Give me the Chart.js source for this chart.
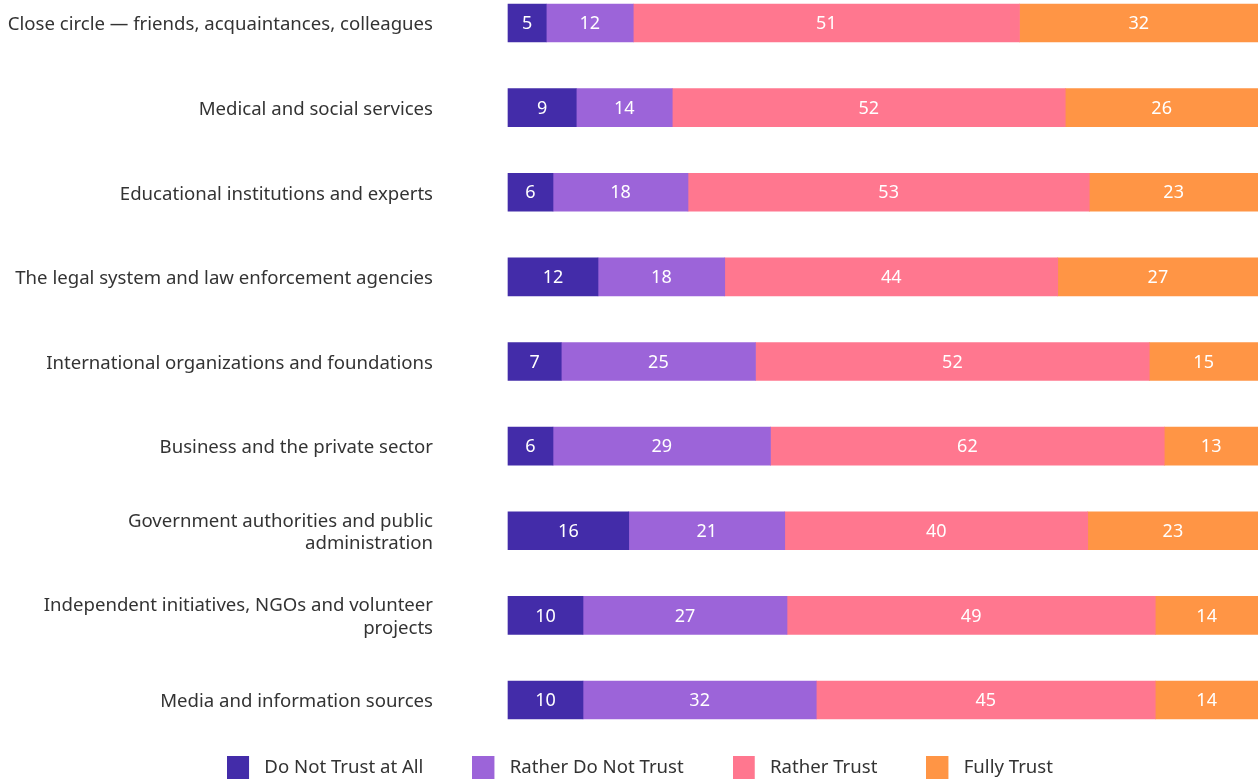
<!DOCTYPE html>
<html>
<head>
<meta charset="utf-8">
<script src="https://cdn.jsdelivr.net/npm/chart.js@4"></script>
<style>
  html, body { margin: 0; padding: 0; background: #fff; }
  #wrap { width: 1258px; height: 780px; position: relative; }
</style>
</head>
<body>
<div id="wrap"><canvas id="trustChart"></canvas></div>
<script>
// categories (multi-line ones are split where the original wraps)
const categories = [
  'Close circle — friends, acquaintances, colleagues',
  'Medical and social services',
  'Educational institutions and experts',
  'The legal system and law enforcement agencies',
  'International organizations and foundations',
  'Business and the private sector',
  ['Government authorities and public', 'administration'],
  ['Independent initiatives, NGOs and volunteer', 'projects'],
  'Media and information sources'
];

const seriesNames = ['Do Not Trust at All', 'Rather Do Not Trust', 'Rather Trust', 'Fully Trust'];
const seriesColors = ['#432ca9', '#9c64d9', '#ff778f', '#ff9545'];

// bar shares (% of row)
const notAtAll    = [5.1, 9.1, 6.0, 12.0, 7.1, 6.0, 16.1, 10.0, 10.0];
const ratherNot   = [11.6, 12.8, 18.0, 16.9, 25.9, 29.0, 20.8, 27.2, 31.1];
const ratherTrust = [51.5, 52.4, 53.5, 44.4, 52.5, 52.5, 40.4, 49.1, 45.2];
const fully       = [31.8, 25.7, 22.5, 26.7, 14.5, 12.5, 22.7, 13.7, 13.7];

// numbers printed on the bars
const notAtAllText    = ['5', '9', '6', '12', '7', '6', '16', '10', '10'];
const ratherNotText   = ['12', '14', '18', '18', '25', '29', '21', '27', '32'];
const ratherTrustText = ['51', '52', '53', '44', '52', '62', '40', '49', '45'];
const fullyText       = ['32', '26', '23', '27', '15', '13', '23', '14', '14'];

const values = [notAtAll, ratherNot, ratherTrust, fully];
const texts = [notAtAllText, ratherNotText, ratherTrustText, fullyText];

const FONT = '"Noto Sans", "Open Sans", sans-serif';
const textSize = 18.6;
const legendGap = 49;

// square swatch with some room on the right, used as legend point style
function swatch(color) {
  const c = document.createElement('canvas');
  c.width = 28;
  c.height = 23;
  const g = c.getContext('2d');
  g.fillStyle = color;
  g.fillRect(0, 0, 22, 23);
  return c;
}

const barLabels = {
  id: 'barLabels',
  afterDatasetsDraw(chart) {
    const ctx = chart.ctx;
    ctx.save();
    ctx.font = '18px ' + FONT;
    ctx.fillStyle = '#ffffff';
    ctx.textAlign = 'center';
    ctx.textBaseline = 'middle';
    chart.data.datasets.forEach((ds, i) => {
      chart.getDatasetMeta(i).data.forEach((bar, j) => {
        const p = bar.getCenterPoint();
        ctx.fillText(ds.shown[j], p.x, p.y + 1);
      });
    });
    ctx.restore();
  }
};

// nudge the legend row a bit right, like the original
const legendNudge = {
  id: 'legendNudge',
  afterLayout(chart) {
    if (chart.legend) chart.legend.left += 22;
  }
};

const datasets = seriesNames.map((name, i) => ({
  label: name,
  data: values[i],
  shown: texts[i],
  backgroundColor: seriesColors[i],
  borderWidth: 0,
  barThickness: 38,
  clip: false
}));

new Chart(document.getElementById('trustChart'), {
  type: 'bar',
  data: { labels: categories, datasets },
  plugins: [barLabels, legendNudge],
  options: {
    indexAxis: 'y',
    responsive: true,
    maintainAspectRatio: false,
    animation: false,
    layout: { padding: { top: 23, left: 0, right: 0, bottom: -7 } },
    scales: {
      x: {
        stacked: true,
        min: 0,
        max: 100,
        grid: { display: false },
        border: { display: false },
        ticks: { display: false },
        afterFit: (s) => { s.height = 9.4; }
      },
      y: {
        stacked: true,
        offset: false,
        grid: { display: false, drawTicks: true, tickLength: 75 },
        border: { display: false },
        ticks: {
          padding: 0,
          labelOffset: 2,
          color: '#333333',
          font: { family: FONT, size: textSize, lineHeight: 1.22 }
        },
        afterFit: (s) => { s.width = 508; }
      }
    },
    plugins: {
      tooltip: { enabled: false },
      legend: {
        position: 'bottom',
        labels: {
          usePointStyle: true,
          pointStyleWidth: 28,
          padding: legendGap,
          color: '#333333',
          font: { family: FONT, size: textSize },
          generateLabels: (chart) => chart.data.datasets.map((ds, i) => ({
            text: ds.label,
            fillStyle: ds.backgroundColor,
            strokeStyle: ds.backgroundColor,
            lineWidth: 0,
            pointStyle: swatch(ds.backgroundColor),
            fontColor: '#333333',
            hidden: false,
            datasetIndex: i
          }))
        }
      }
    }
  }
});
</script>
</body>
</html>
